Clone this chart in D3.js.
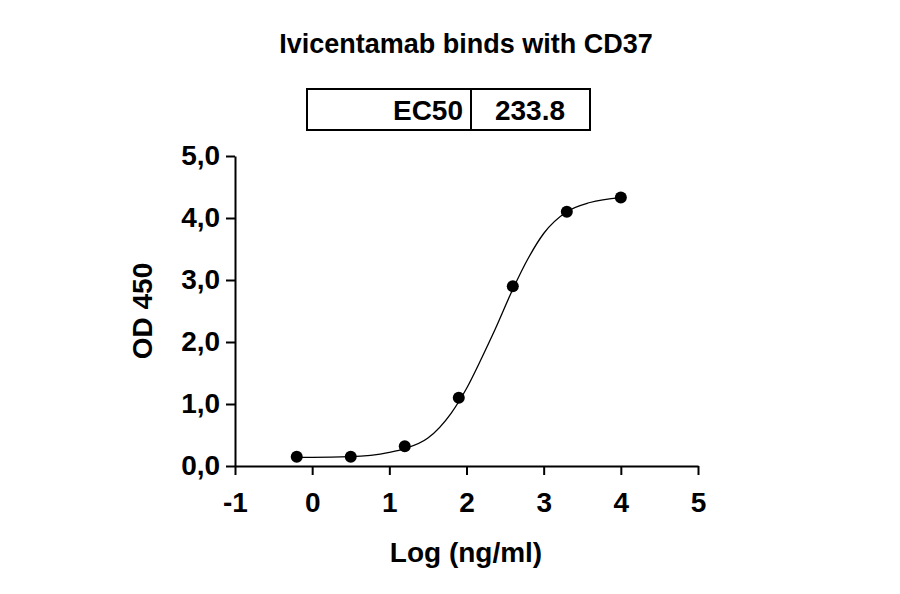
<!DOCTYPE html>
<html><head><meta charset="utf-8">
<script src="https://cdn.jsdelivr.net/npm/d3@7"></script>
<style>body{margin:0;background:#fff}text{font-family:"Liberation Sans",Arial,sans-serif;font-weight:bold}</style>
</head><body>
<svg id="chart" width="900" height="594"></svg>
<script>
// measured points
let logConc = [-0.2, 0.5, 1.2, 1.9, 2.6, 3.3, 4.0];
let od450 = [0.15, 0.15, 0.32, 1.1, 2.9, 4.1, 4.33];
// fitted curve
let fitX = [-0.2, 0, 0.5, 1, 1.2, 1.5, 1.8, 2.0, 2.2, 2.37, 2.6, 2.8, 3.0, 3.3, 3.6, 4.0];
let fitY = [0.14, 0.14, 0.15, 0.22, 0.28, 0.45, 0.85, 1.25, 1.75, 2.2, 2.85, 3.35, 3.75, 4.1, 4.25, 4.33];
let xTicks = [-1, 0, 1, 2, 3, 4, 5];
let yTicks = [0, 1, 2, 3, 4, 5];
let ec50 = "233.8";

let svg = d3.select("#chart");
let x = d3.scaleLinear().domain([-1, 5]).range([235, 698]);
let y = d3.scaleLinear().domain([0, 5]).range([466, 156]);

svg.append("text").attr("x", 466).attr("y", 53).attr("text-anchor", "middle")
    .attr("font-size", 27).text("Ivicentamab binds with CD37");

// EC50 box
let box = svg.append("g");
box.append("rect").attr("x", 307).attr("y", 89).attr("width", 283).attr("height", 41)
    .attr("fill", "none").attr("stroke", "#000").attr("stroke-width", 2);
box.append("line").attr("x1", 471).attr("x2", 471).attr("y1", 89).attr("y2", 130)
    .attr("stroke", "#000").attr("stroke-width", 2);
box.append("text").attr("x", 463).attr("y", 120).attr("text-anchor", "end").attr("font-size", 28).text("EC50");
box.append("text").attr("x", 530).attr("y", 120).attr("text-anchor", "middle").attr("font-size", 28).text(ec50);

let xAxis = svg.append("g").attr("transform", "translate(0,466)")
    .call(d3.axisBottom(x).tickValues(xTicks).tickSize(9).tickSizeOuter(0).tickFormat(d => String(d)));
let yAxis = svg.append("g").attr("transform", "translate(235,0)")
    .call(d3.axisLeft(y).tickValues(yTicks).tickSize(9).tickSizeOuter(0).tickFormat(d => d + ",0"));
[xAxis, yAxis].forEach(a => {
    a.select(".domain").attr("stroke-width", 2);
    a.selectAll(".tick line").attr("stroke-width", 2);
    a.selectAll("text").attr("font-size", 28).attr("font-family", "Liberation Sans, Arial, sans-serif").attr("font-weight", "bold");
});
xAxis.selectAll("text").attr("dy", "1.2em");
yAxis.selectAll("text").attr("dx", "-0.1em");

svg.append("text").attr("x", 466).attr("y", 562).attr("text-anchor", "middle").attr("font-size", 28).text("Log (ng/ml)");
svg.append("text").attr("transform", "translate(152,311) rotate(-90)").attr("text-anchor", "middle")
    .attr("font-size", 28).text("OD 450");

let line = d3.line().x(d => x(d[0])).y(d => y(d[1])).curve(d3.curveMonotoneX);
svg.append("path").datum(d3.zip(fitX, fitY)).attr("d", line)
    .attr("fill", "none").attr("stroke", "#000").attr("stroke-width", 1.3);

svg.selectAll("circle.pt").data(d3.zip(logConc, od450)).join("circle")
    .attr("class", "pt").attr("cx", d => x(d[0])).attr("cy", d => y(d[1])).attr("r", 6).attr("fill", "#000");
</script>
</body></html>
